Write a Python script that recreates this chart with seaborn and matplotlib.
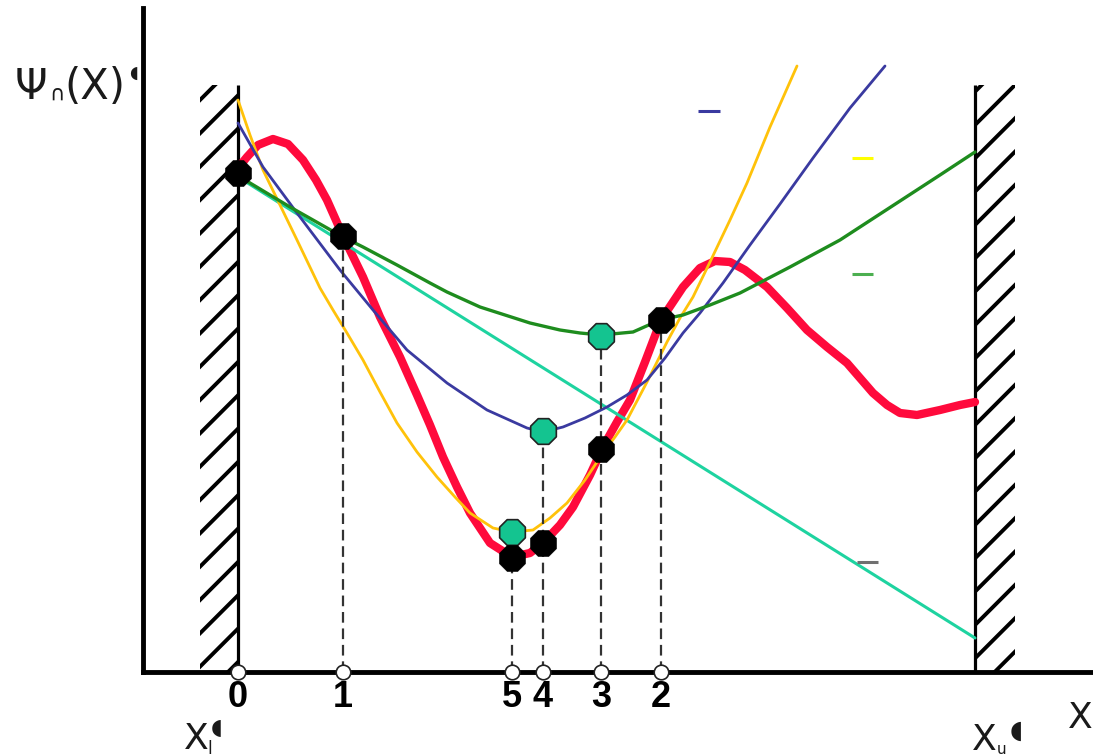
import matplotlib
matplotlib.use("Agg")
import matplotlib.pyplot as plt
import seaborn as sns
import numpy as np
import pandas as pd
from matplotlib.patches import Rectangle

# ---------------- data (x in horizontal units, y measured up from the X axis) ----------------
red_x = [238, 247, 258, 273, 288, 303, 316, 327, 343, 363, 380, 400, 417, 430, 443, 457, 470, 490,
         512, 530, 543, 560, 573, 590, 603, 617, 630, 645, 661, 683, 700, 715, 730, 745, 767, 787,
         807, 827, 847, 860, 873, 887, 900, 917, 940, 960, 975]
red_y = [504, 515, 527, 533, 528, 512, 492, 472, 436, 395, 355, 315, 277, 247, 215, 185, 159, 129,
         115, 119, 129, 147, 165, 197, 225, 250, 272, 310, 352, 385, 404, 411, 410, 402, 385, 364,
         342, 325, 309, 294, 279, 267, 259, 257, 262, 267, 270]

yellow_x = [238, 250, 263, 280, 297, 320, 333, 347, 363, 380, 397, 417, 437, 455, 470, 493, 512, 533,
            550, 567, 585, 603, 615, 627, 647, 667, 680, 693, 710, 730, 747, 770, 797]
yellow_y = [572, 537, 502, 467, 432, 384, 362, 339, 312, 280, 249, 220, 195, 175, 159, 144, 140, 142,
            154, 169, 192, 219, 235, 252, 290, 330, 354, 375, 410, 452, 489, 545, 606]

blue_x = [238, 263, 297, 340, 373, 407, 447, 487, 527, 543, 563, 585, 607, 627, 647, 665, 683, 700,
          723, 750, 780, 813, 850, 885]
blue_y = [549, 505, 459, 402, 362, 322, 289, 262, 244, 240, 245, 254, 265, 277, 292, 314, 339, 359,
          389, 427, 468, 514, 564, 606]

green_x = [238, 250, 290, 343, 363, 397, 430, 447, 480, 530, 560, 580, 601, 633, 660, 683, 710, 740,
           790, 840, 880, 900, 940, 975]
green_y = [497, 489, 465, 435, 425, 407, 389, 380, 365, 349, 342, 339, 337, 340, 352, 357, 367, 379,
           405, 432, 458, 471, 497, 520]

teal_x = [238, 975]
teal_y = [495, 34]

point_labels = ["0", "1", "2", "3", "4", "5"]
point_x = [238, 343, 661, 601, 543, 512]
point_y = [499, 436, 352, 223, 129, 114]

vertex_x = [601, 543, 512]
vertex_y = [336, 241, 140]

dash_x = [343, 512, 543, 601, 661]
dash_top = [436, 114, 241, 336, 352]

wall_left = (200, 238)
wall_right = (975, 1015)
wall_top = 587

legend_marks = {  # short coloured dashes (legend keys without text)
    "blue": ([698, 720], [561, 561], "#3a3aa0"),
    "yellow": ([852, 873], [514, 514], "#ffff00"),
    "green": ([852, 873], [398, 398], "#4caf50"),
    "gray": ([857, 878], [110, 110], "#707070"),
}

# ---------------- style ----------------
sns.set_theme(style="white")
plt.rcParams["font.family"] = ["Liberation Sans", "DejaVu Sans"]
plt.rcParams["hatch.linewidth"] = 2.8
plt.rcParams["hatch.color"] = "black"

fig = plt.figure(figsize=(10.93, 7.56), dpi=100)
fig.patch.set_facecolor("white")
ax = fig.add_axes([143 / 1093, 84 / 756, 950 / 1093, 664 / 756])
ax.set_facecolor("white")
ax.set_xlim(143, 1093)
ax.set_ylim(0, 664)
for side in ["top", "right"]:
    ax.spines[side].set_visible(False)
for side in ["left", "bottom"]:
    ax.spines[side].set_color("black")
    ax.spines[side].set_linewidth(3.5)
ax.set_yticks([])

# walls
for (x0, x1), inner in [(wall_left, wall_left[1]), (wall_right, wall_right[0])]:
    ax.add_patch(Rectangle((x0, 0), x1 - x0, wall_top, hatch="/", fill=False,
                           edgecolor="black", linewidth=0, zorder=1))
    ax.plot([inner, inner], [0, wall_top], color="black", lw=2.3, zorder=2,
            solid_capstyle="butt")

# curves
def curve(x, y, color, lw, z):
    sns.lineplot(data=pd.DataFrame({"x": x, "y": y}), x="x", y="y", sort=False,
                 estimator=None, color=color, lw=lw, ax=ax, zorder=z,
                 solid_joinstyle="round", solid_capstyle="round")

curve(red_x, red_y, "#ff0a3c", 6.0, 3)
curve(teal_x, teal_y, "#1ed3a0", 2.2, 4)
curve(yellow_x, yellow_y, "#ffc20a", 2.0, 4)
curve(blue_x, blue_y, "#3a3aa0", 2.0, 4)
curve(green_x, green_y, "#1e8c1e", 2.4, 4)

for name, (lx, ly, c) in legend_marks.items():
    ax.plot(lx, ly, color=c, lw=2.2, zorder=4, solid_capstyle="butt")

# dashed drop lines
ax.vlines(dash_x, 0, dash_top, colors="#333333", linestyles=(0, (4.8, 2.6)), lw=1.6, zorder=5)

# markers
sns.scatterplot(x=vertex_x, y=vertex_y, marker="8", s=400, color="#14c490",
                edgecolor="#222222", linewidth=1.2, ax=ax, zorder=6)
sns.scatterplot(x=point_x, y=point_y, marker="8", s=400, color="black",
                edgecolor="black", linewidth=0.5, ax=ax, zorder=7)
sns.scatterplot(x=point_x, y=[0] * len(point_x), marker="o", s=110, color="white",
                edgecolor="#222222", linewidth=1.2, ax=ax, zorder=8, clip_on=False)
ax.set_xlabel("")
ax.set_ylabel("")

# x ticks labelled with iteration numbers
ax.set_xticks(point_x, labels=point_labels)
ax.tick_params(axis="x", length=0, pad=6)
for t in ax.get_xticklabels():
    t.set_fontsize(26)
    t.set_fontweight("bold")
    t.set_color("black")

# axis labels and bracket names
dv = ["DejaVu Sans"]
fig.text(15 / 1093, 1 - 99 / 756, "Ψ", fontsize=30, family=dv, color="#1a1a1a", ha="left", va="baseline")
fig.text(49 / 1093, 1 - 100 / 756, "∩", fontsize=15, family=dv, color="#1a1a1a", ha="left", va="baseline")
fig.text(64 / 1093, 1 - 99 / 756, "(X)", fontsize=30, family=dv, color="#1a1a1a", ha="left", va="baseline")
fig.text(129 / 1093, 1 - 78 / 756, "◖", fontsize=12, family=dv, color="#1a1a1a", ha="left", va="baseline")

fig.text(184 / 1093, 1 - 749 / 756, "X", fontsize=26, family=dv, color="#1a1a1a", ha="left", va="baseline")
fig.text(207 / 1093, 1 - 754 / 756, "l", fontsize=12, family=dv, color="#1a1a1a", ha="left", va="baseline")
fig.text(211 / 1093, 1 - 733 / 756, "◖", fontsize=16, family=dv, color="#1a1a1a", ha="left", va="baseline")

fig.text(972 / 1093, 1 - 750 / 756, "X", fontsize=26, family=dv, color="#1a1a1a", ha="left", va="baseline")
fig.text(997 / 1093, 1 - 754 / 756, "u", fontsize=11, family=dv, color="#1a1a1a", ha="left", va="baseline")
fig.text(1010 / 1093, 1 - 738 / 756, "◖", fontsize=18, family=dv, color="#1a1a1a", ha="left", va="baseline")

fig.text(1068 / 1093, 1 - 728 / 756, "X", fontsize=26, family=dv, color="#1a1a1a", ha="left", va="baseline")

fig.savefig("out.png", dpi=100, facecolor="white")
